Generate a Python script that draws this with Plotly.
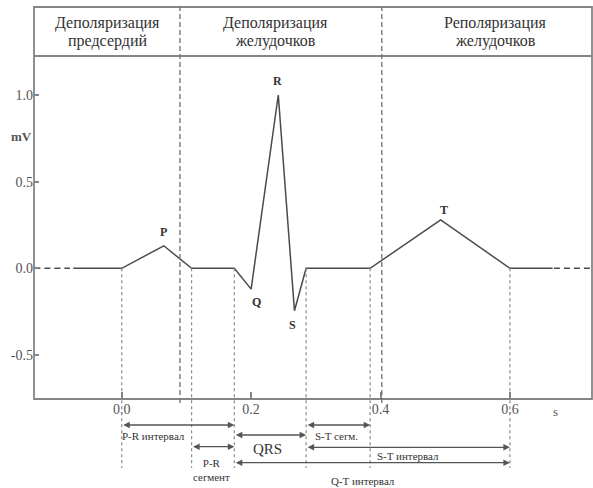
import plotly.graph_objects as go

# ---- data ----
wave_t = [-0.075, 0.0, 0.065, 0.108, 0.174, 0.200, 0.242, 0.267, 0.285, 0.384, 0.493, 0.600, 0.666]
wave_v = [0.0, 0.0, 0.13, 0.0, 0.0, -0.12, 1.0, -0.245, 0.0, 0.0, 0.28, 0.0, 0.0]
base_left_t = [-0.135, -0.080]
base_right_t = [0.668, 0.727]
peak_names = ["P", "Q", "R", "S", "T"]
peak_index = [2, 5, 6, 7, 10]
event_t = [0.0, 0.108, 0.174, 0.285, 0.384, 0.600]
divider_t = [0.090, 0.402]
phase_line1 = ["Деполяризация", "Деполяризация", "Реполяризация"]
phase_line2 = ["предсердий", "желудочков", "желудочков"]
interval_names = ["P-R интервал", "P-R<br>сегмент", "QRS", "S-T сегм.", "S-T интервал", "Q-T интервал"]
interval_start = [0.0, 0.108, 0.174, 0.285, 0.285, 0.174]
interval_end = [0.174, 0.174, 0.285, 0.384, 0.600, 0.600]
x_ticks = [0.0, 0.2, 0.4, 0.6]
x_ticktext = ["0.0", "0.2", "0.4", "0.6"]
y_ticks = [-0.5, 0.0, 0.5, 1.0]
y_ticktext = ["-0.5", "0.0", "0.5", "1.0"]

# ---- layout geometry ----
W, H = 593, 488
TOP, BOTTOM, LEFT, RIGHT = 56, 399, 34, 592
XR = [-0.1356, 0.7269]
YR = [-0.754, 1.225]
PH = BOTTOM - TOP


def py(px):
    return (BOTTOM - px) / PH


def vy(v):
    return (v - YR[0]) / (YR[1] - YR[0])


SERIF = "Liberation Serif, Times New Roman, serif"
CURVE = "#4a4a4a"
FRAME = "#858585"
TXT = "#333333"
TICK = "#555555"

fig = go.Figure()
fig.add_trace(go.Scatter(x=wave_t, y=wave_v, mode="lines",
                         line=dict(color=CURVE, width=1.5), hoverinfo="skip"))
for seg in (base_left_t, base_right_t):
    fig.add_trace(go.Scatter(x=seg, y=[0, 0], mode="lines",
                             line=dict(color=CURVE, width=1.5, dash="6px,4px"), hoverinfo="skip"))

shapes = []
# frame incl. header
shapes.append(dict(type="rect", xref="paper", yref="paper", x0=0, x1=1, y0=0, y1=py(7),
                   line=dict(color=FRAME, width=1.8)))
shapes.append(dict(type="line", xref="paper", yref="paper", x0=0, x1=1, y0=1, y1=1,
                   line=dict(color=FRAME, width=1.8)))
for t in divider_t:
    shapes.append(dict(type="line", xref="x", yref="paper", x0=t, x1=t, y0=py(403), y1=py(7),
                       line=dict(color="#707070", width=1.3, dash="5px,3px")))
for t in event_t:
    shapes.append(dict(type="line", xref="x", yref="paper", x0=t, x1=t, y0=vy(0), y1=py(468),
                       line=dict(color="#8a8a8a", width=1.2, dash="dot")))

ann = []
# peak labels
offs = {"P": (0, 14), "Q": (5, -13), "R": (-1, 14), "S": (-2, -14), "T": (3, 10)}
for name, i in zip(peak_names, peak_index):
    dx, dy = offs[name]
    ann.append(dict(x=wave_t[i], y=wave_v[i], xref="x", yref="y", text="<b>%s</b>" % name,
                    showarrow=False, xshift=dx, yshift=dy,
                    font=dict(family=SERIF, size=12, color=TXT)))
# header
head_x = [-0.022, 0.237, 0.577]
for l1, l2, x in zip(phase_line1, phase_line2, head_x):
    ann.append(dict(x=x, y=py(23.5), xref="x", yref="paper", text=l1, showarrow=False,
                    font=dict(family=SERIF, size=16, color=TXT), yanchor="middle"))
    ann.append(dict(x=x, y=py(41), xref="x", yref="paper", text=l2, showarrow=False,
                    font=dict(family=SERIF, size=16, color=TXT), yanchor="middle"))
# interval arrows
arrow_px = [425, 446.7, 435, 425, 447.3, 462.7]
for s, e, p in zip(interval_start, interval_end, arrow_px):
    ann.append(dict(x=e, y=py(p), ax=s, ay=0, xref="x", yref="paper", axref="x", ayref="pixel",
                    text="", showarrow=True, arrowhead=2, arrowside="end+start", arrowsize=1.0,
                    arrowwidth=1.3, arrowcolor="#555555", standoff=0, startstandoff=0))
label_pos = [(0.0485, 436, 11), (0.138, 470, 11), (0.226, 449, 15), (0.332, 436, 11),
             (0.443, 456, 11), (0.3725, 481, 11)]
for name, (x, p, fs) in zip(interval_names, label_pos):
    ann.append(dict(x=x, y=py(p), xref="x", yref="paper", text=name, showarrow=False,
                    yanchor="middle", font=dict(family=SERIF, size=fs, color=TXT)))
# axis unit labels
ann.append(dict(x=(21 - LEFT) / (RIGHT - LEFT), y=py(136), xref="paper", yref="paper", text="<b>mV</b>",
                xanchor="center", yanchor="middle",
                showarrow=False, font=dict(family=SERIF, size=13, color=TICK)))
ann.append(dict(x=0.67, y=py(411), xref="x", yref="paper", text="s", showarrow=False,
                xanchor="center", yanchor="middle",
                font=dict(family=SERIF, size=13, color=TICK)))

fig.update_layout(
    width=W, height=H,
    margin=dict(l=LEFT, r=W - RIGHT, t=TOP, b=H - BOTTOM),
    plot_bgcolor="white", paper_bgcolor="white",
    showlegend=False,
    shapes=shapes, annotations=ann,
    font=dict(family=SERIF),
    xaxis=dict(range=XR, showgrid=False, zeroline=False, showline=False,
               tickvals=x_ticks, ticktext=x_ticktext, ticks="inside", ticklen=7,
               tickcolor=FRAME, tickwidth=1.5,
               tickfont=dict(family=SERIF, size=14, color=TICK)),
    yaxis=dict(range=YR, showgrid=False, zeroline=False, showline=False,
               tickvals=y_ticks, ticktext=y_ticktext, ticks="inside", ticklen=5,
               tickcolor=FRAME, tickwidth=1.5,
               tickfont=dict(family=SERIF, size=14, color=TICK)),
)

fig.write_html("out.html", config={"displayModeBar": False},
               post_script="document.body.style.margin='0';document.body.style.overflow='hidden';")
